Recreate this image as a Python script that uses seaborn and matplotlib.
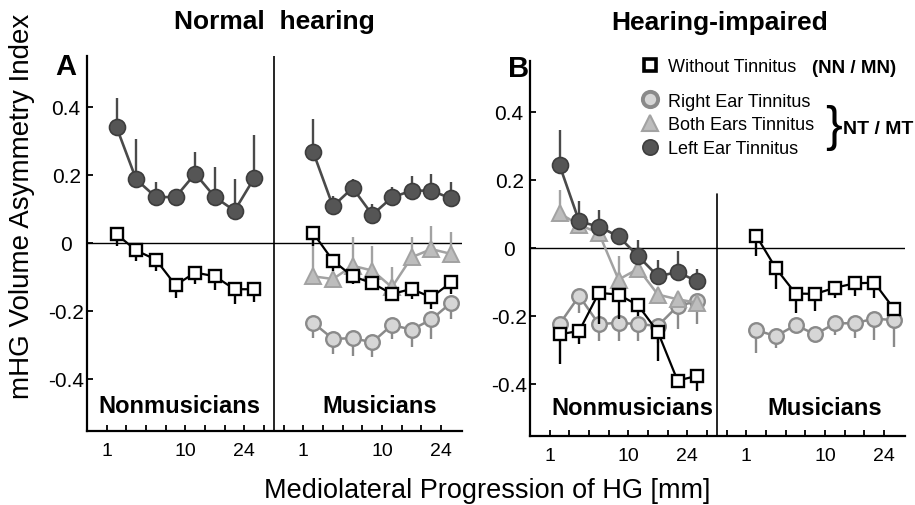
import numpy as np
import pandas as pd
import matplotlib
matplotlib.use("Agg")
import matplotlib.pyplot as plt
import seaborn as sns
from matplotlib.lines import Line2D

# ---------------- data ----------------
bins = [0, 1, 2, 3, 4, 5, 6, 7]          # 8 successive segments along HG
groups = ["Nonmusicians", "Musicians"]
series_names = ["Without Tinnitus", "Right Ear Tinnitus", "Both Ears Tinnitus", "Left Ear Tinnitus"]

# Panel A  (normal hearing)
A_non_without = [0.026, -0.022, -0.049, -0.124, -0.087, -0.098, -0.136, -0.136]
A_non_without_err = [0.034, 0.032, 0.034, 0.037, 0.035, 0.041, 0.042, 0.037]
A_non_left = [0.341, 0.187, 0.135, 0.135, 0.204, 0.135, 0.095, 0.191]
A_non_left_err = [0.084, 0.120, 0.044, 0.000, 0.063, 0.088, 0.094, 0.126]

A_mus_without = [0.029, -0.052, -0.098, -0.118, -0.150, -0.135, -0.160, -0.116]
A_mus_without_err = [0.037, 0.029, 0.023, 0.012, 0.020, 0.030, 0.034, 0.034]
A_mus_left = [0.267, 0.108, 0.162, 0.083, 0.134, 0.154, 0.154, 0.131]
A_mus_left_err = [0.098, 0.031, 0.026, 0.032, 0.030, 0.044, 0.049, 0.047]
A_mus_both = [-0.098, -0.106, -0.067, -0.081, -0.130, -0.042, -0.018, -0.032]
A_mus_both_err = [0.128, 0.000, 0.084, 0.071, 0.058, 0.059, 0.069, 0.065]
A_mus_right = [-0.235, -0.282, -0.280, -0.292, -0.241, -0.255, -0.225, -0.176]
A_mus_right_err = [0.045, 0.044, 0.051, 0.044, 0.041, 0.052, 0.057, 0.048]

# Panel B  (hearing-impaired)
B_non_without = [-0.254, -0.244, -0.132, -0.137, -0.169, -0.247, -0.390, -0.376]
B_non_without_err = [0.087, 0.039, 0.092, 0.073, 0.031, 0.085, 0.015, 0.044]
B_non_left = [0.244, 0.078, 0.063, 0.034, -0.024, -0.083, -0.071, -0.098]
B_non_left_err = [0.102, 0.059, 0.049, 0.000, 0.048, 0.049, 0.061, 0.035]
B_non_both = [0.102, 0.068, 0.044, -0.093, -0.061, -0.137, -0.151, -0.161]
B_non_both_err = [0.069, 0.000, 0.000, 0.069, 0.056, 0.000, 0.000, 0.000]
B_non_right = [-0.224, -0.141, -0.224, -0.220, -0.224, -0.229, -0.171, -0.156]
B_non_right_err = [0.035, 0.049, 0.049, 0.053, 0.049, 0.049, 0.068, 0.068]

B_mus_without = [0.036, -0.060, -0.134, -0.135, -0.117, -0.104, -0.102, -0.179]
B_mus_without_err = [0.060, 0.062, 0.056, 0.050, 0.029, 0.037, 0.044, 0.000]
B_mus_right = [-0.242, -0.259, -0.227, -0.254, -0.222, -0.221, -0.208, -0.212]
B_mus_right_err = [0.067, 0.034, 0.000, 0.000, 0.035, 0.045, 0.062, 0.078]

ytick_values = [-0.4, -0.2, 0, 0.2, 0.4]
ytick_labels = ["-0.4", "-0.2", "0", "0.2", "0.4"]
xtick_labels = ["1", "10", "24"]

# ---------------- long table ----------------
records = []
def add(panel, group, series, vals, errs):
    for b, v, e in zip(bins, vals, errs):
        records.append(dict(panel=panel, group=group, series=series, bin=b, value=v, err=e))

add("A", "Nonmusicians", "Without Tinnitus", A_non_without, A_non_without_err)
add("A", "Nonmusicians", "Left Ear Tinnitus", A_non_left, A_non_left_err)
add("A", "Musicians", "Without Tinnitus", A_mus_without, A_mus_without_err)
add("A", "Musicians", "Left Ear Tinnitus", A_mus_left, A_mus_left_err)
add("A", "Musicians", "Both Ears Tinnitus", A_mus_both, A_mus_both_err)
add("A", "Musicians", "Right Ear Tinnitus", A_mus_right, A_mus_right_err)
add("B", "Nonmusicians", "Without Tinnitus", B_non_without, B_non_without_err)
add("B", "Nonmusicians", "Left Ear Tinnitus", B_non_left, B_non_left_err)
add("B", "Nonmusicians", "Both Ears Tinnitus", B_non_both, B_non_both_err)
add("B", "Nonmusicians", "Right Ear Tinnitus", B_non_right, B_non_right_err)
add("B", "Musicians", "Without Tinnitus", B_mus_without, B_mus_without_err)
add("B", "Musicians", "Right Ear Tinnitus", B_mus_right, B_mus_right_err)
df = pd.DataFrame(records)

GROUP_OFFSET = {"Nonmusicians": 0.0, "Musicians": 10.0}
df["pos"] = df["bin"] + df["group"].map(GROUP_OFFSET)

STYLE = {
    "Without Tinnitus": dict(marker="s", ms=9, mfc="white", mec="black", color="black",
                             mew=1.7, lw=1.6, z=6, up=False),
    "Right Ear Tinnitus": dict(marker="o", ms=10.5, mfc="#d6d6d6", mec="#8a8a8a", color="#8a8a8a",
                               mew=1.7, lw=1.8, z=3, up=False),
    "Both Ears Tinnitus": dict(marker="^", ms=11.5, mfc="#bdbdbd", mec="#a2a2a2", color="#a2a2a2",
                               mew=1.4, lw=1.8, z=4, up=True),
    "Left Ear Tinnitus": dict(marker="o", ms=11.5, mfc="#555555", mec="#3d3d3d", color="#4a4a4a",
                              mew=1.2, lw=1.9, z=5, up=True),
}

# ---------------- figure ----------------
sns.set_style("ticks")
plt.rcParams["font.family"] = ["Liberation Sans", "DejaVu Sans"]
plt.rcParams["axes.unicode_minus"] = False
for k in ("text.color", "axes.labelcolor", "xtick.color", "ytick.color", "axes.edgecolor"):
    plt.rcParams[k] = "black"

W, H = 915, 506
fig = plt.figure(figsize=(W / 100, H / 100), dpi=100)
fig.patch.set_facecolor("white")

def rect(l, t, r, b):
    return [l / W, 1 - b / H, (r - l) / W, (b - t) / H]

def fx(x):
    return x / W

def fy(y):
    return 1 - y / H

axA = fig.add_axes(rect(87, 57, 462, 432))
axB = fig.add_axes(rect(530, 62, 905, 437))
YLIM = (-0.553, 0.55)

xtick_pos = [p - 0.5 for p in range(0, 9)] + [p - 0.5 for p in range(9, 18)]
label_at = {-0.5: xtick_labels[0], 3.5: xtick_labels[1], 6.5: xtick_labels[2],
            9.5: xtick_labels[0], 13.5: xtick_labels[1], 16.5: xtick_labels[2]}

for panel, ax in (("A", axA), ("B", axB)):
    sub_panel = df[df.panel == panel]
    for (grp, ser), sub in sub_panel.groupby(["group", "series"], sort=False):
        st = STYLE[ser]
        sns.lineplot(data=sub, x="pos", y="value", ax=ax, color=st["color"], lw=st["lw"],
                     marker=st["marker"], markersize=st["ms"], markerfacecolor=st["mfc"],
                     markeredgecolor=st["mec"], markeredgewidth=st["mew"], zorder=st["z"],
                     errorbar=None, sort=False)
        if st["up"]:
            lo, hi = sub["value"], sub["value"] + sub["err"]
        else:
            lo, hi = sub["value"] - sub["err"], sub["value"]
        ax.vlines(sub["pos"], lo, hi, colors=st["color"], lw=1.7, zorder=st["z"] - 0.5)

    ax.set_xlim(-1.5, 17.56)
    ax.set_ylim(*YLIM)
    ax.set_xlabel("")
    ax.set_ylabel("")
    ax.set_facecolor("white")
    for s in ("top", "right"):
        ax.spines[s].set_visible(False)
    for s in ("left", "bottom"):
        ax.spines[s].set_linewidth(1.6)
        ax.spines[s].set_color("black")
    ax.axhline(0, color="black", lw=1.0, zorder=1)

    ax.set_yticks(ytick_values)
    ax.set_yticklabels(ytick_labels, fontsize=15)
    for lab in ax.get_yticklabels():
        lab.set_horizontalalignment("center")
    ax.tick_params(axis="y", direction="in", length=4, width=1.3, pad=15, colors="black")

    ax.set_xticks(xtick_pos)
    ax.set_xticklabels([label_at.get(p, "") for p in xtick_pos], fontsize=14)
    ax.tick_params(axis="x", direction="in", length=4, width=1.3, pad=8, colors="black")

# group dividers
axA.axvline(8.0, color="black", lw=1.2, zorder=1)
axB.axvline(8.0, ymin=0, ymax=(0.16 - YLIM[0]) / (YLIM[1] - YLIM[0]), color="black", lw=1.2, zorder=1)

# ---------------- texts ----------------
fig.text(fx(274), fy(29), "Normal  hearing", ha="center", va="baseline", fontsize=19, fontweight="bold")
fig.text(fx(720), fy(30), "Hearing-impaired", ha="center", va="baseline", fontsize=19, fontweight="bold")
fig.text(fx(65.5), fy(75), "A", ha="center", va="baseline", fontsize=21, fontweight="bold")
fig.text(fx(519), fy(77), "B", ha="center", va="baseline", fontsize=21, fontweight="bold")

fig.text(fx(179.5), fy(413), groups[0], ha="center", va="baseline", fontsize=17, fontweight="bold")
fig.text(fx(380), fy(413), groups[1], ha="center", va="baseline", fontsize=17, fontweight="bold")
fig.text(fx(632), fy(415), groups[0], ha="center", va="baseline", fontsize=17, fontweight="bold")
fig.text(fx(825), fy(415), groups[1], ha="center", va="baseline", fontsize=17, fontweight="bold")

fig.text(fx(22), fy(206), "mHG Volume Asymmetry Index", rotation=90, ha="center", va="center", fontsize=20)
fig.text(fx(487), fy(498), "Mediolateral Progression of HG [mm]", ha="center", va="baseline", fontsize=19.5)

# ---------------- legend ----------------
def handle(name, ms, mew):
    st = STYLE[name]
    return Line2D([], [], ls="none", marker=st["marker"], ms=ms, mfc=st["mfc"], mec=st["mec"], mew=mew)

leg_kw = dict(frameon=False, handlelength=1.0, handletextpad=0.5, borderpad=0, borderaxespad=0,
              fontsize=13, loc="center left", bbox_transform=fig.transFigure)
fig.legend([Line2D([], [], ls="none", marker="s", ms=8, mfc="white", mec="black", mew=2.6)],
           [series_names[0]], bbox_to_anchor=(fx(641), fy(68)), **leg_kw)
fig.legend([handle(series_names[1], 11, 2.8), handle(series_names[2], 12, 1.5), handle(series_names[3], 11, 1.2)],
           series_names[1:], bbox_to_anchor=(fx(641), fy(126)), labelspacing=0.38, **leg_kw)

fig.text(fx(812), fy(73), "(NN / MN)", ha="left", va="baseline", fontsize=13.5, fontweight="bold")
fig.text(fx(833), fy(128), "}", ha="center", va="center", fontsize=36)
fig.text(fx(843), fy(134), "NT / MT", ha="left", va="baseline", fontsize=14, fontweight="bold")

fig.savefig("out.png", dpi=100, facecolor="white")
